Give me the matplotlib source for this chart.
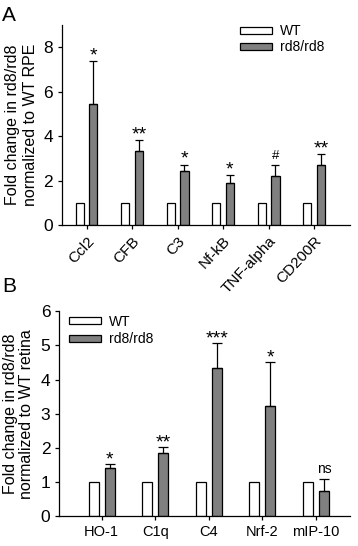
import matplotlib
matplotlib.use("Agg")
import matplotlib.pyplot as plt
import numpy as np

plt.rcParams['font.family'] = ['Liberation Sans', 'DejaVu Sans']

# Panel A data
cats_a = ["Ccl2", "CFB", "C3", "Nf-kB", "TNF-alpha", "CD200R"]
wt_a = [1.0, 1.0, 1.0, 1.0, 1.0, 1.0]
rd8_a = [5.45, 3.32, 2.42, 1.9, 2.22, 2.7]
rd8_err_a = [1.95, 0.5, 0.3, 0.35, 0.5, 0.5]
sig_a = ["*", "**", "*", "*", "#", "**"]

# Panel B data
cats_b = ["HO-1", "C1q", "C4", "Nrf-2", "mIP-10"]
wt_b = [1.0, 1.0, 1.0, 1.0, 1.0]
rd8_b = [1.4, 1.85, 4.35, 3.22, 0.75]
rd8_err_b = [0.14, 0.18, 0.73, 1.28, 0.35]
sig_b = ["*", "**", "***", "*", "ns"]

fig = plt.figure(figsize=(3.58, 5.46), dpi=100)
axA = fig.add_axes([0.173, 0.588, 0.805, 0.366])
axB = fig.add_axes([0.166, 0.0544, 0.812, 0.3756])

gray = "#808080"

def draw(ax, cats, wt, rd8, err, sig, w, off, star_off, hash_off, ns_off, capsize):
    x = np.arange(len(cats))
    ax.bar(x - off, wt, w, color="white", edgecolor="black", linewidth=0.9, label="WT", zorder=2)
    ax.bar(x + off, rd8, w, color=gray, edgecolor="black", linewidth=0.9, label="rd8/rd8", zorder=2)
    ax.errorbar(x + off, rd8, yerr=[np.zeros(len(rd8)), err], fmt="none",
                ecolor="black", elinewidth=0.9, capsize=capsize, capthick=0.9, zorder=3)
    for xi, v, e, s in zip(x, rd8, err, sig):
        if s == "ns":
            ax.text(xi + off, v + e + ns_off, s, ha="center", va="bottom", fontsize=10)
        elif s == "#":
            ax.text(xi + off, v + e + hash_off, s, ha="center", va="center", fontsize=9.5)
        else:
            ax.text(xi + off, v + e + star_off, s, ha="center", va="center", fontsize=14)
    for sp in ["top", "right"]:
        ax.spines[sp].set_visible(False)
    ax.spines["left"].set_linewidth(0.9)
    ax.spines["bottom"].set_linewidth(0.9)
    ax.tick_params(direction="out", width=0.9, length=3, labelsize=12.5)
    ax.set_xticks(x)
    return x

draw(axA, cats_a, wt_a, rd8_a, rd8_err_a, sig_a, 0.18, 0.15, 0.23, 0.38, 0.0, 3)
axA.set_xlim(-0.54, 5.79)
axA.set_ylim(0, 9)
axA.set_yticks([0, 2, 4, 6, 8])
axA.set_xticklabels(cats_a, rotation=47, ha="right", rotation_mode="anchor", fontsize=11)
axA.set_ylabel("Fold change in rd8/rd8\nnormalized to WT RPE", fontsize=11.5, labelpad=4,
               linespacing=1.2)
axA.legend(loc="upper left", bbox_to_anchor=(0.618, 1.005), frameon=False, fontsize=10,
           borderpad=0, borderaxespad=0,
           handlelength=2.3, handleheight=0.4, labelspacing=0.15, handletextpad=0.6)

draw(axB, cats_b, wt_b, rd8_b, rd8_err_b, sig_b, 0.187, 0.15, 0.12, 0.3, 0.08, 3.5)
axB.set_xlim(-0.79, 4.64)
axB.set_ylim(0, 6)
axB.set_yticks([0, 1, 2, 3, 4, 5, 6])
axB.set_xticklabels(cats_b, fontsize=10.5)
axB.set_ylabel("Fold change in rd8/rd8\nnormalized to WT retina", fontsize=11.5, labelpad=5,
               linespacing=1.1)
axB.legend(loc="upper left", bbox_to_anchor=(0.033, 0.982), frameon=False, fontsize=10,
           borderpad=0, borderaxespad=0,
           handlelength=2.3, handleheight=0.4, labelspacing=0.25, handletextpad=0.6)

fig.text(0.006, 0.989, "A", fontsize=15, va="top", ha="left")
fig.text(0.006, 0.493, "B", fontsize=15, va="top", ha="left")

fig.savefig("out.png", dpi=100)
